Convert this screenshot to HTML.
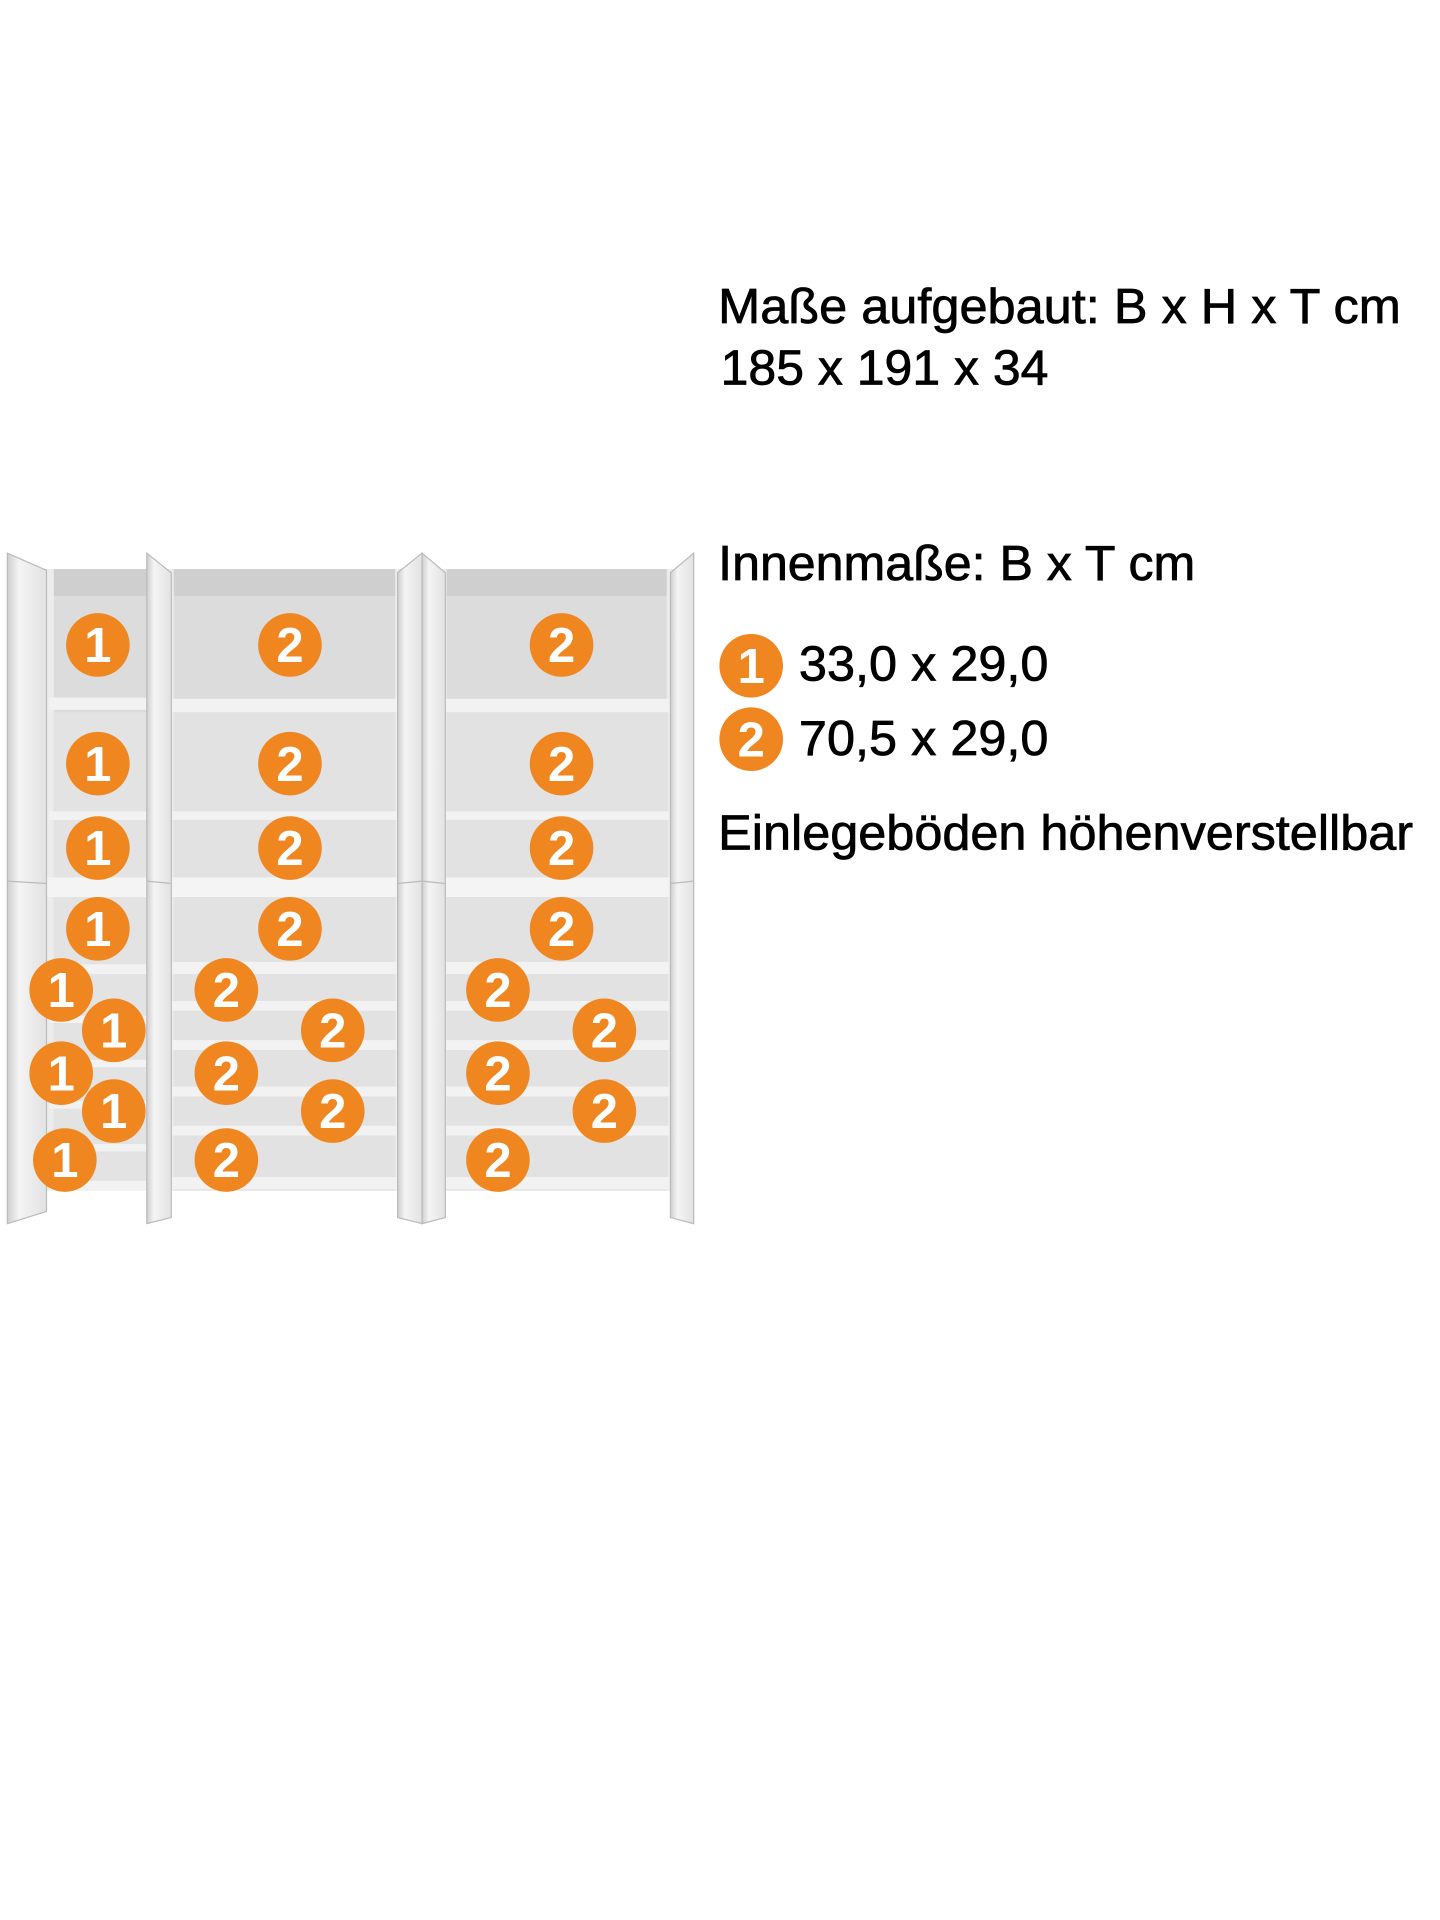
<!DOCTYPE html>
<html><head><meta charset="utf-8"><style>
html,body{margin:0;padding:0;background:#fff;}
svg{display:block;}
text{font-family:"Liberation Sans",Arial,sans-serif;}
</style></head><body>
<svg width="1440" height="1920" viewBox="0 0 1177 1569" xmlns="http://www.w3.org/2000/svg">
<rect width="1177" height="1569" fill="#fff"/>
<defs>
<linearGradient id="door" x1="0" x2="1"><stop offset="0" stop-color="#cfcfcf"/><stop offset="0.3" stop-color="#f4f4f4"/><stop offset="1" stop-color="#e2e2e2"/></linearGradient>
<g id="c1"><circle r="26" fill="#F0861F"/><text y="14" text-anchor="middle" font-size="40" font-weight="bold" fill="#fff">1</text></g>
<g id="c2"><circle r="26" fill="#F0861F"/><text y="14" text-anchor="middle" font-size="40" font-weight="bold" fill="#fff">2</text></g>
</defs>
<rect x="20" y="465" width="530" height="508" fill="#dcdcdc"/>
<rect x="20" y="465" width="530" height="22" fill="#cfcfcf"/>
<rect x="36" y="465" width="8" height="508" fill="#ececec"/>
<rect x="132" y="465" width="10" height="508" fill="#ececec"/>
<rect x="323" y="465" width="10" height="508" fill="#ececec"/>
<rect x="355" y="465" width="10" height="508" fill="#ececec"/>
<rect x="545" y="465" width="8" height="508" fill="#ececec"/>
<rect x="44" y="582" width="76" height="390" fill="#e3e3e3"/>
<rect x="142" y="582" width="181" height="390" fill="#e2e2e2"/>
<rect x="365" y="582" width="181" height="390" fill="#e2e2e2"/>
<g fill="#f2f2f2">
<rect x="40" y="570" width="80" height="10"/><rect x="40" y="663" width="80" height="7"/>
<rect x="40" y="788" width="80" height="8"/><rect x="40" y="830" width="80" height="6"/>
<rect x="40" y="866" width="80" height="6"/><rect x="40" y="900" width="80" height="6"/>
<rect x="40" y="935" width="80" height="6"/><rect x="40" y="965" width="80" height="8"/>
<rect x="140" y="571" width="185" height="11"/><rect x="362" y="571" width="185" height="11"/>
<rect x="140" y="663" width="185" height="7"/><rect x="362" y="663" width="185" height="7"/>
<rect x="140" y="786" width="185" height="10"/><rect x="362" y="786" width="185" height="10"/>
<rect x="140" y="818" width="185" height="8"/><rect x="362" y="818" width="185" height="8"/>
<rect x="140" y="850" width="185" height="8"/><rect x="362" y="850" width="185" height="8"/>
<rect x="140" y="888" width="185" height="8"/><rect x="362" y="888" width="185" height="8"/>
<rect x="140" y="920" width="185" height="8"/><rect x="362" y="920" width="185" height="8"/>
<rect x="140" y="962" width="185" height="10"/><rect x="362" y="962" width="185" height="10"/>
<rect x="20" y="717" width="530" height="16" fill="#f4f4f4"/>
</g>
<polygon points="6,452 38,466 38,990 6,1000" fill="url(#door)" stroke="#bbb" stroke-width="1"/>
<polygon points="120,452 140,468 140,995 120,1000" fill="url(#door)" stroke="#bbb" stroke-width="1"/>
<polygon points="325,468 345,452 345,1000 325,995" fill="url(#door)" stroke="#bbb" stroke-width="1"/>
<polygon points="345,452 364,468 364,995 345,1000" fill="url(#door)" stroke="#bbb" stroke-width="1"/>
<polygon points="548,468 567,452 567,1000 548,995" fill="url(#door)" stroke="#bbb" stroke-width="1"/>
<line x1="6" y1="720" x2="38" y2="722" stroke="#bbb"/><line x1="120" y1="720" x2="140" y2="722" stroke="#bbb"/>
<line x1="325" y1="722" x2="345" y2="720" stroke="#bbb"/><line x1="345" y1="720" x2="364" y2="722" stroke="#bbb"/>
<line x1="548" y1="722" x2="567" y2="720" stroke="#bbb"/>
<use href="#c1" x="80" y="527"/><use href="#c1" x="80" y="624"/><use href="#c1" x="80" y="693"/><use href="#c1" x="80" y="759"/>
<use href="#c1" x="50" y="809"/><use href="#c1" x="93" y="842"/><use href="#c1" x="50" y="877"/><use href="#c1" x="93" y="908"/><use href="#c1" x="53" y="948"/>
<use href="#c2" x="237" y="527"/><use href="#c2" x="237" y="624"/><use href="#c2" x="237" y="693"/><use href="#c2" x="237" y="759"/>
<use href="#c2" x="185" y="809"/><use href="#c2" x="272" y="842"/><use href="#c2" x="185" y="877"/><use href="#c2" x="272" y="908"/><use href="#c2" x="185" y="948"/>
<use href="#c2" x="459" y="527"/><use href="#c2" x="459" y="624"/><use href="#c2" x="459" y="693"/><use href="#c2" x="459" y="759"/>
<use href="#c2" x="407" y="809"/><use href="#c2" x="494" y="842"/><use href="#c2" x="407" y="877"/><use href="#c2" x="494" y="908"/><use href="#c2" x="407" y="948"/>
<g font-size="40" fill="#000" stroke="#000" stroke-width="0.6">
<text x="587" y="264" textLength="558" lengthAdjust="spacingAndGlyphs">Maße aufgebaut: B x H x T cm</text>
<text x="589" y="314" textLength="268" lengthAdjust="spacingAndGlyphs">185 x 191 x 34</text>
<text x="587" y="474" textLength="390" lengthAdjust="spacingAndGlyphs">Innenmaße: B x T cm</text>
<text x="653" y="556" textLength="204" lengthAdjust="spacingAndGlyphs">33,0 x 29,0</text>
<text x="653" y="617" textLength="204" lengthAdjust="spacingAndGlyphs">70,5 x 29,0</text>
<text x="587" y="694" textLength="568" lengthAdjust="spacingAndGlyphs">Einlegeböden höhenverstellbar</text>
</g>
<use href="#c1" x="614" y="544"/>
<use href="#c2" x="614" y="604"/>
</svg>
</body></html>
